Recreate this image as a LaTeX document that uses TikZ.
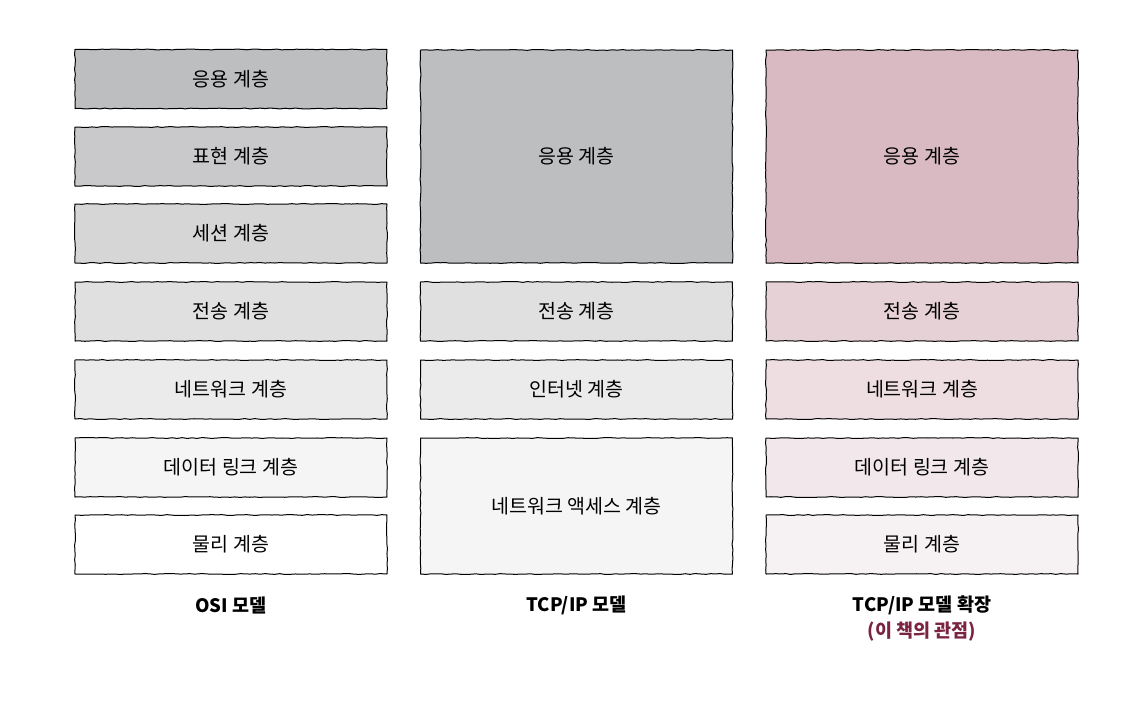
\documentclass[tikz,border=0pt]{standalone}
\usepackage{fontspec}
\setmainfont{Noto Sans CJK KR}
\usetikzlibrary{decorations.pathmorphing}

\definecolor{gA}{HTML}{BDBEC0}
\definecolor{gB}{HTML}{C9C9CB}
\definecolor{gC}{HTML}{D6D6D7}
\definecolor{gD}{HTML}{E0E0E0}
\definecolor{gE}{HTML}{EBEBEB}
\definecolor{gF}{HTML}{F5F5F5}
\definecolor{rA}{HTML}{D9BAC3}
\definecolor{rD}{HTML}{E6D1D6}
\definecolor{rE}{HTML}{EEDEE2}
\definecolor{rF}{HTML}{F2E7EA}
\definecolor{rG}{HTML}{F6F1F2}
\definecolor{note}{HTML}{7B2442}

\tikzset{
  layer/.style={draw=black, line width=1pt, line join=round,
    decorate, decoration={random steps,segment length=5pt,amplitude=0.45pt},
    minimum width=312pt, minimum height=59pt, inner sep=0pt,
    font=\fontsize{19.5}{22}\selectfont},
  caption/.style={font=\fontsize{18.5}{21}\selectfont\bfseries}
}

\begin{document}
\begin{tikzpicture}[x=1pt,y=-1pt]
\useasboundingbox (0,0) rectangle (1140,716);

% OSI model
\node[layer,fill=gA] (osi1) at (231,79) {응용 계층};
\node[layer,fill=gB] (osi2) at (231,156.5) {표현 계층};
\node[layer,fill=gC] (osi3) at (231,233.5) {세션 계층};
\node[layer,fill=gD] (osi4) at (231,311.5) {전송 계층};
\node[layer,fill=gE] (osi5) at (231,389.5) {네트워크 계층};
\node[layer,fill=gF] (osi6) at (231,467.5) {데이터 링크 계층};
\node[layer,fill=white] (osi7) at (231,544.5) {물리 계층};

% TCP/IP model
\node[layer,fill=gA,minimum height=213pt] (tcp1) at (576.5,156.5) {응용 계층};
\node[layer,fill=gD] (tcp2) at (576.5,311.5) {전송 계층};
\node[layer,fill=gE] (tcp3) at (576.5,389.5) {인터넷 계층};
\node[layer,fill=gF,minimum height=136pt] (tcp4) at (576.5,506) {네트워크 액세스 계층};

% extended TCP/IP model
\node[layer,fill=rA,minimum height=213pt] (ext1) at (922,156.5) {응용 계층};
\node[layer,fill=rD] (ext2) at (922,311.5) {전송 계층};
\node[layer,fill=rE] (ext3) at (922,389.5) {네트워크 계층};
\node[layer,fill=rF] (ext4) at (922,467.5) {데이터 링크 계층};
\node[layer,fill=rG] (ext5) at (922,544.5) {물리 계층};

% captions
\node[caption] (capA) at (231,605) {OSI 모델};
\node[caption] (capB) at (576.5,605) {TCP/IP 모델};
\node[caption] (capC) at (922,605) {TCP/IP 모델 확장};
\node[caption,text=note] (capD) at (922,632) {(이 책의 관점)};
\end{tikzpicture}
\end{document}
